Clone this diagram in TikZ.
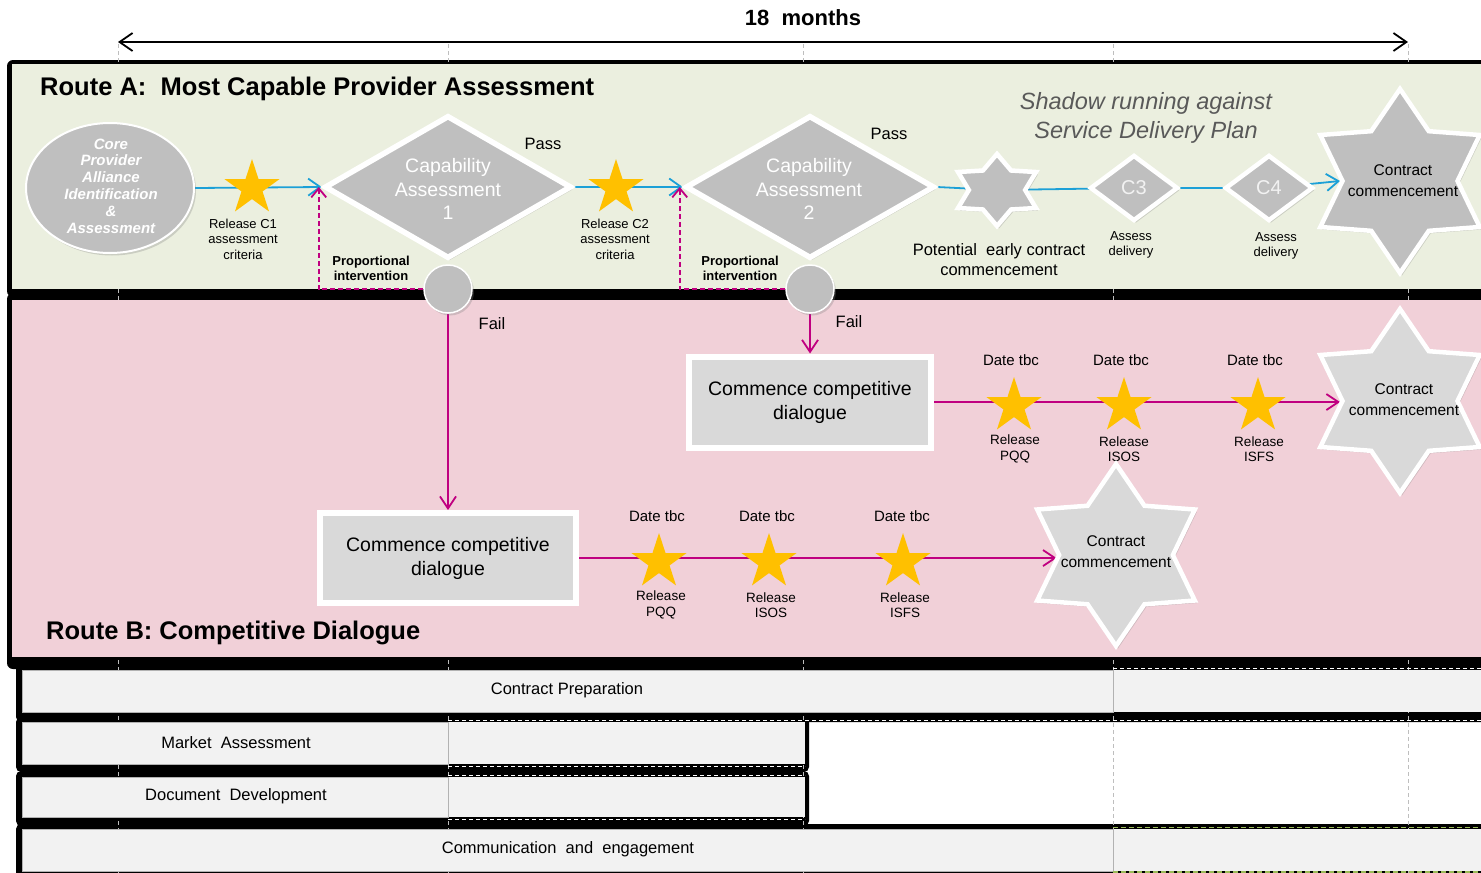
\documentclass[tikz,border=0pt]{standalone}
\usepackage{fontspec}
\setmainfont{Liberation Sans}
\usetikzlibrary{shapes.geometric,arrows.meta,shadows}
\pgfdeclarelayer{bg}
\pgfdeclarelayer{lines}
\pgfsetlayers{bg,lines,main}
\newcommand\fsz[2]{\fontsize{#1pt}{#2pt}\selectfont}
\definecolor{panelA}{RGB}{235,239,223}
\definecolor{panelB}{RGB}{241,208,216}
\definecolor{gfill}{RGB}{191,191,191}
\definecolor{boxfill}{RGB}{217,217,217}
\definecolor{barfill}{RGB}{242,242,242}
\definecolor{gold}{RGB}{255,192,0}
\definecolor{blueln}{RGB}{28,160,215}
\definecolor{magln}{RGB}{192,0,128}
\definecolor{gridc}{RGB}{190,190,190}
\definecolor{shtxt}{RGB}{89,89,89}
\definecolor{greendash}{RGB}{155,187,89}
\begin{document}
\begin{tikzpicture}[x=1pt,y=-1pt,
  shd/.style={drop shadow={opacity=0.3, shadow xshift=2pt, shadow yshift=-2.5pt}},
  gstar/.style={star, star points=5, star point ratio=2.618, fill=gold, draw=none, inner sep=0pt, minimum size=58pt},
  hexstar/.style={star, star points=6, star point ratio=1.6, draw=white, line width=4.5pt, inner sep=0pt, shd},
  cdiam/.style={diamond, fill=gfill, draw=white, line width=5.5pt, inner sep=0pt, shd},
  gcirc/.style={circle, fill=gfill, draw=white, line width=1.5pt, inner sep=0pt, minimum size=48pt, shd},
  ccbox/.style={rectangle, fill=boxfill, draw=white, line width=6pt, inner sep=0pt, align=center, font=\fsz{19.5}{24}, shd},
  lbl/.style={inner sep=0pt, align=center},
  smalllbl/.style={lbl, font=\fsz{13.5}{15.5}},
  datelbl/.style={lbl, font=\fsz{15}{18}},
  passlbl/.style={lbl, font=\fsz{16.5}{20}},
  ttl/.style={anchor=west, inner sep=0pt, font=\bfseries\fsz{25.5}{30}},
  barlbl/.style={lbl, font=\fsz{16.5}{20}},
  proplbl/.style={lbl, font=\bfseries\fsz{13}{15}},
  blarrow/.style={draw=blueln, line width=1.8pt, -{Straight Barb[length=12pt,width=17pt]}},
  blline/.style={draw=blueln, line width=1.8pt},
  mgarrow/.style={draw=magln, line width=1.8pt, -{Straight Barb[length=12pt,width=16pt]}},
  propln/.style={draw=magln, line width=1.8pt, dash pattern=on 5pt off 3pt, -{Straight Barb[length=9pt,width=15pt]}},
]
\useasboundingbox (0,0) rectangle (1481,873);

% ---------- background panels and bars ----------
\begin{pgfonlayer}{bg}
  \fill[white] (0,0) rectangle (1481,873);
  \fill[black, rounded corners=6pt] (7,60) rectangle (1500,297);
  \fill[black, rounded corners=6pt] (7,293) rectangle (1500,669);
  \fill[black, rounded corners=5pt] (16,664) rectangle (1500,722);
  \fill[black, rounded corners=5pt] (16,717) rectangle (809,772);
  \fill[black, rounded corners=5pt] (16,771) rectangle (809,826);
  \fill[black, rounded corners=5pt] (16,824) rectangle (1500,885);
  \foreach \gx in {118,448,803,1113,1408}
    \draw[gridc, dash pattern=on 4pt off 3pt, line width=1pt] (\gx,44) -- (\gx,873);
  \fill[panelA] (12,64) rectangle (1500,289);
  \fill[panelB] (12,300) rectangle (1500,657);
  % Contract preparation
  \filldraw[fill=barfill, draw=gray!60, line width=.6pt] (22,670) rectangle (1113,712);
  \fill[barfill] (1113.5,670) rectangle (1500,712);
  \draw[white, dash pattern=on 4pt off 3pt, line width=1pt] (1113,668.5) -- (1500,668.5);
  \draw[white, dash pattern=on 4pt off 3pt, line width=1pt] (448,720.5) -- (1500,720.5);
  % Market assessment
  \filldraw[fill=barfill, draw=gray!60, line width=.6pt] (22,722) rectangle (448,764);
  \fill[barfill] (448.5,722) rectangle (805,764);
  \draw[white, dash pattern=on 4pt off 3pt, line width=1pt] (448,766) -- (805,766);
  \draw[white, dash pattern=on 4pt off 3pt, line width=1pt] (448,775) -- (805,775);
  % Document development
  \filldraw[fill=barfill, draw=gray!60, line width=.6pt] (22,777) rectangle (448,817);
  \fill[barfill] (448.5,777) rectangle (805,817);
  \draw[white, dash pattern=on 4pt off 3pt, line width=1pt] (448,819) -- (805,819);
  % Communication and engagement
  \filldraw[fill=barfill, draw=gray!60, line width=.6pt] (22,829) rectangle (1113,871);
  \fill[barfill] (1113.5,829) rectangle (1500,871);
  \draw[greendash, dash pattern=on 5pt off 3pt, line width=1.2pt] (1113,827.5) -- (1500,827.5);
  \draw[greendash, dash pattern=on 5pt off 3pt, line width=1.2pt] (1113,872) -- (1500,872);
\end{pgfonlayer}

% ---------- timeline ----------
\node[lbl, font=\bfseries\fsz{22}{26}] (months) at (803,18) {18~ months};
\coordinate (tl) at (118,42);
\coordinate (tr) at (1408,42);
\draw[line width=1.8pt, {Straight Barb[length=13pt,width=18pt]}-{Straight Barb[length=13pt,width=18pt]}] (tl) -- (tr);

% ---------- Route A ----------
\node[ttl] (ra) at (40,89) {Route A:~ Most Capable Provider Assessment};

\node[ellipse, fill=gfill, draw=white, line width=2pt, minimum width=168pt, minimum height=130pt, inner sep=0pt, shd] (cpa) at (110,188) {};
\node[lbl, text=white, font=\bfseries\itshape\fsz{15}{16.8}] (cpat) at (111,186) {Core\\Provider\\Alliance\\Identification\\\&\\Assessment};

\node[gstar] (s1) at (252,188) {};
\node[smalllbl, font=\fsz{13}{15.5}] (s1l) at (243,239) {Release C1\\assessment\\criteria};

\node[cdiam, minimum width=247pt, minimum height=143pt] (d1) at (448,187) {};
\node[lbl, text=white, font=\fsz{19.5}{23.5}] (d1t) at (448,189) {Capability\\Assessment\\1};
\node[passlbl] (p1) at (543,144) {Pass};
\node[gcirc] (c1) at (448,289) {};
\node[proplbl] (pi1) at (371,268) {Proportional\\intervention};

\node[gstar] (s2) at (616,188) {};
\node[smalllbl, font=\fsz{13}{15.5}] (s2l) at (615,239) {Release C2\\assessment\\criteria};

\node[cdiam, minimum width=249pt, minimum height=143pt] (d2) at (810,187) {};
\node[lbl, text=white, font=\fsz{19.5}{23.5}] (d2t) at (809,189) {Capability\\Assessment\\2};
\node[passlbl] (p2) at (889,134) {Pass};
\node[gcirc] (c2) at (810,289) {};
\node[proplbl] (pi2) at (740,268) {Proportional\\intervention};

\begin{scope}[shift={(997,190)}]
  \node[hexstar, fill=gfill, minimum size=72pt, xscale=1.25, transform shape] (es) at (0,0) {};
\end{scope}
\node[lbl, font=\fsz{16.5}{20}] (pec) at (999,260) {Potential~ early contract\\commencement};

\node[cdiam, line width=4.5pt, minimum width=88pt, minimum height=66pt, text=barfill, font=\fsz{20}{22}] (c3) at (1134,188) {C3};
\node[smalllbl, font=\fsz{13}{15}] (c3l) at (1131,245) {Assess\\delivery};
\node[cdiam, line width=4.5pt, minimum width=88pt, minimum height=66pt, text=barfill, font=\fsz{20}{22}] (c4) at (1269,188) {C4};
\node[smalllbl, font=\fsz{13}{15}] (c4l) at (1276,246) {Assess\\delivery};

\node[hexstar, fill=gfill, minimum size=184pt] (ca) at (1400,181) {};
\node[lbl, font=\fsz{15.5}{21}] (cat) at (1403,181) {Contract\\commencement};

\node[lbl, font=\itshape\fsz{23.5}{29}, text=shtxt] (shr) at (1146,118) {Shadow running against\\Service Delivery Plan};

% ---------- Route B ----------
\node[ttl] (rb) at (46,633) {Route B: Competitive Dialogue};
\node[passlbl] (f1) at (492,324) {Fail};
\node[passlbl] (f2) at (849,322) {Fail};

\node[ccbox, minimum width=242pt, minimum height=91pt] (box2) at (810,402) {Commence competitive\\dialogue};
\node[ccbox, minimum width=256pt, minimum height=90pt] (box1) at (448,558) {Commence competitive\\dialogue};

\node[gstar] (b1) at (1014,406) {};
\node[gstar] (b2) at (1124,406) {};
\node[gstar] (b3) at (1258,406) {};
\node[datelbl] (b1d) at (1011,360) {Date tbc};
\node[datelbl] (b2d) at (1121,360) {Date tbc};
\node[datelbl] (b3d) at (1255,360) {Date tbc};
\node[smalllbl] (b1r) at (1015,449) {Release\\PQQ};
\node[smalllbl] (b2r) at (1124,449) {Release\\ISOS};
\node[smalllbl] (b3r) at (1259,449) {Release\\ISFS};

\node[hexstar, fill=boxfill, minimum size=184pt] (cb1) at (1400,401) {};
\node[lbl, font=\fsz{15.5}{21}] (cb1t) at (1404,400) {Contract\\commencement};

\node[gstar] (l1) at (659,562) {};
\node[gstar] (l2) at (769,562) {};
\node[gstar] (l3) at (903,562) {};
\node[datelbl] (l1d) at (657,516) {Date tbc};
\node[datelbl] (l2d) at (767,516) {Date tbc};
\node[datelbl] (l3d) at (902,516) {Date tbc};
\node[smalllbl] (l1r) at (661,605) {Release\\PQQ};
\node[smalllbl] (l2r) at (771,605) {Release\\ISOS};
\node[smalllbl] (l3r) at (905,605) {Release\\ISFS};

\node[hexstar, fill=boxfill, minimum size=182pt] (cb2) at (1116,555) {};
\node[lbl, font=\fsz{15.5}{21}] (cb2t) at (1116,552) {Contract\\commencement};

% ---------- bar labels ----------
\node[barlbl] (cp) at (567,690) {Contract Preparation};
\node[barlbl] (ma) at (236,743) {Market~ Assessment};
\node[barlbl] (dd) at (236,796) {Document~ Development};
\node[barlbl] (ce) at (568,849) {Communication~ and~ engagement};

% ---------- connectors ----------
\begin{pgfonlayer}{lines}
  \draw[blarrow] (cpa.east) -- (d1.west);
  \draw[blarrow] (d1.east) -- (d2.west);
  \draw[blline] (d2.east) -- (es.center) -- (c3.center) -- (c4.center);
  \draw[blarrow] (c4.center) -- (ca.west);
  \draw[propln] (c1.west) -| ([xshift=-3pt]d1.west);
  \draw[propln] (c2.west) -| ([xshift=-3pt]d2.west);
  \draw[mgarrow] (c1.south) -- (box1.north);
  \draw[mgarrow] (c2.south) -- (box2.north);
  \draw[mgarrow] (box2.east) -- (box2.east -| cb1.west);
  \draw[mgarrow] (box1.east) -- (box1.east -| cb2.west);
\end{pgfonlayer}
\end{tikzpicture}
\end{document}
